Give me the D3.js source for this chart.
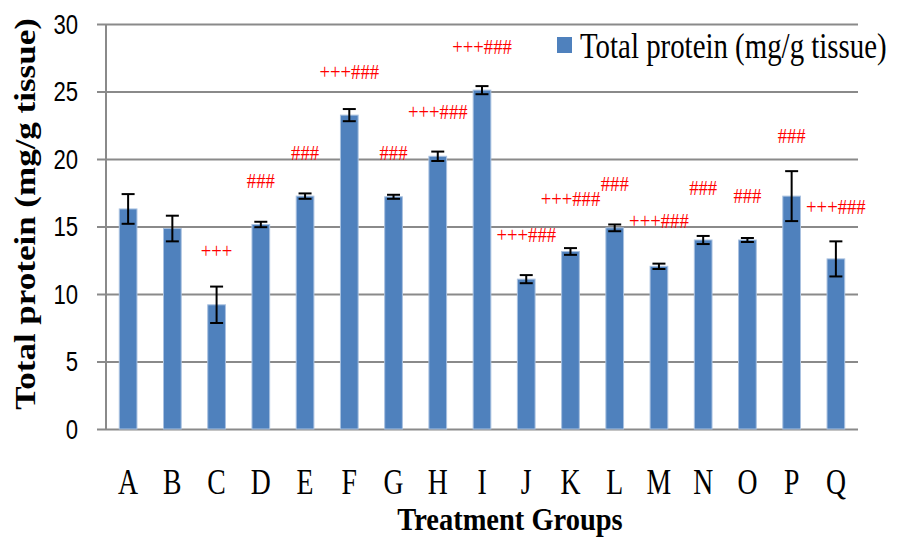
<!DOCTYPE html>
<html>
<head>
<meta charset="UTF-8">
<title>Total protein</title>
<script src="https://d3js.org/d3.v7.min.js"></script>
<style>
  body { margin: 0; background: #fff; }
  svg { display: block; }
</style>
</head>
<body>
<script>
// DATA
var groups = ["A","B","C","D","E","F","G","H","I","J","K","L","M","N","O","P","Q"];
var protein = [16.3, 14.85, 9.2, 15.15, 17.25, 23.25, 17.2, 20.2, 25.1, 11.1, 13.15, 14.9, 12.05, 14.0, 14.0, 17.25, 12.6];
var proteinErr = [1.1, 0.95, 1.35, 0.2, 0.2, 0.45, 0.15, 0.35, 0.3, 0.3, 0.25, 0.25, 0.2, 0.3, 0.15, 1.85, 1.3];
var signif = ["", "", "+++", "###", "###", "+++###", "###", "+++###", "+++###", "+++###", "+++###", "###", "+++###", "###", "###", "###", "+++###"];
// level (in mg/g units) where each significance mark sits
var signifLevel = [0, 0, 12.65, 17.85, 19.9, 25.95, 19.9, 22.95, 27.8, 13.85, 16.5, 17.65, 14.9, 17.3, 16.75, 21.2, 15.95];
var yTicks = [0, 5, 10, 15, 20, 25, 30];
var seriesName = "Total protein (mg/g tissue)";

var W = 897, H = 540;
var plot = {left: 106, right: 858, top: 24, bottom: 429};

var svg = d3.select("body").append("svg")
    .attr("width", W)
    .attr("height", H);

svg.append("rect").attr("width", W).attr("height", H).attr("fill", "#fff");

// SCALES
var x = d3.scaleBand()
    .domain(groups)
    .range([plot.left, plot.right])
    .padding(0);
var y = d3.scaleLinear()
    .domain([0, 30])
    .range([plot.bottom, plot.top]);

var barW = x.bandwidth() * 0.4;

// text helper: the picture is squeezed sideways, so text gets a scaleX
function label(g, px, py, str, o) {
    return g.append("text")
        .attr("transform", "translate(" + px + "," + py + ") scale(" + (o.sx || 1) + ",1)" + (o.rot ? " rotate(" + o.rot + ")" : ""))
        .attr("text-anchor", o.anchor || "start")
        .style("font-family", o.family || "'Liberation Serif', 'Times New Roman', serif")
        .style("font-size", o.size + "px")
        .style("font-weight", o.weight || "normal")
        .attr("fill", o.fill || "#000")
        .text(str);
}

// GRID + Y AXIS
var gAxis = svg.append("g")
    .attr("transform", "translate(" + plot.left + ",0)")
    .call(d3.axisLeft(y).tickValues(yTicks).tickSize(-(plot.right - plot.left)).tickSizeOuter(0).tickFormat(""));
gAxis.select(".domain").remove();
gAxis.selectAll(".tick line")
    .attr("x1", -9)
    .attr("stroke", "#8a8a8a")
    .attr("stroke-width", 2);

svg.append("line")
    .attr("x1", plot.left).attr("x2", plot.left)
    .attr("y1", y(30)).attr("y2", y(0))
    .attr("stroke", "#8a8a8a")
    .attr("stroke-width", 2);

yTicks.forEach(function (t) {
    label(svg, 78, y(t) + 9.5, t, {size: 27, sx: 0.82, anchor: "end", family: "'Liberation Sans', Arial, sans-serif"});
});

// BARS
svg.append("g").selectAll("rect")
    .data(groups)
    .join("rect")
    .attr("x", function (d) { return x(d) + x.bandwidth() / 2 - barW / 2; })
    .attr("y", function (d, i) { return y(protein[i]); })
    .attr("width", barW)
    .attr("height", function (d, i) { return y(0) - y(protein[i]); })
    .attr("fill", "#4f81bd")
    .attr("stroke", "#a9c1e0")
    .attr("stroke-width", 1);

// ERROR BARS
var gErr = svg.append("g").attr("stroke", "#000").attr("stroke-width", 2);
groups.forEach(function (d, i) {
    var cx = x(d) + x.bandwidth() / 2;
    var hi = y(protein[i] + proteinErr[i]), lo = y(protein[i] - proteinErr[i]);
    gErr.append("line").attr("x1", cx).attr("x2", cx).attr("y1", hi).attr("y2", lo);
    gErr.append("line").attr("x1", cx - 6.5).attr("x2", cx + 6.5).attr("y1", hi).attr("y2", hi);
    gErr.append("line").attr("x1", cx - 6.5).attr("x2", cx + 6.5).attr("y1", lo).attr("y2", lo);
});

// SIGNIFICANCE MARKS
groups.forEach(function (d, i) {
    if (!signif[i]) return;
    label(svg, x(d) + x.bandwidth() / 2, y(signifLevel[i]), signif[i], {size: 22, sx: 0.85, anchor: "middle", fill: "#ff0000"});
});

// X TICK LABELS
groups.forEach(function (d) {
    label(svg, x(d) + x.bandwidth() / 2, 494, d, {size: 36, sx: 0.77, anchor: "middle"});
});

// AXIS TITLES
label(svg, 510, 530, "Treatment Groups", {size: 32, sx: 0.89, anchor: "middle", weight: "bold"});
label(svg, 35, 214, seriesName, {size: 35, sx: 0.87, anchor: "middle", weight: "bold", rot: -90});

// LEGEND
svg.append("rect")
    .attr("x", 557).attr("y", 37)
    .attr("width", 15).attr("height", 16)
    .attr("fill", "#4f81bd");
label(svg, 580, 57.5, seriesName, {size: 35, sx: 0.825});
</script>
</body>
</html>
